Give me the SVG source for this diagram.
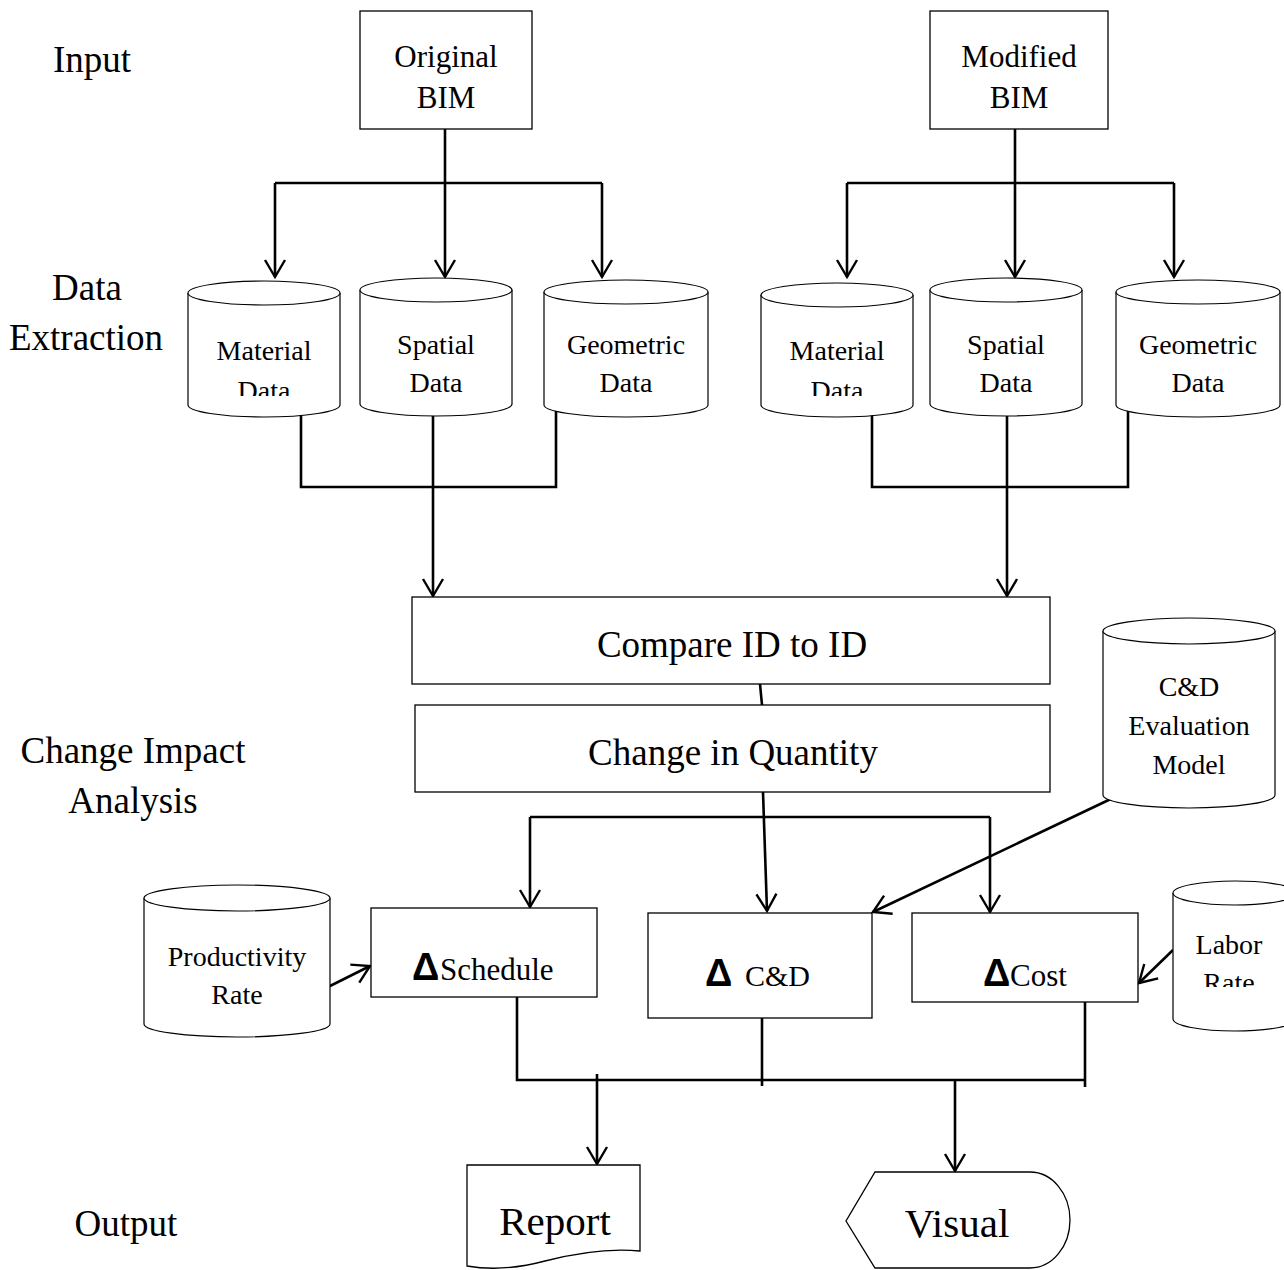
<svg xmlns="http://www.w3.org/2000/svg" width="1284" height="1270" viewBox="0 0 1284 1270">
  <style>
    .box { fill: #fff; stroke: #000; stroke-width: 1.3; }
    .cyl { fill: #fff; stroke: #000; stroke-width: 1.2; }
    .t { font-family: "Liberation Serif", "Times New Roman", serif; fill: #000; text-anchor: middle; }
    .lbl { font-size: 37px; }
    .d { font-size: 28px; }
    .delta { font-family: "Liberation Sans", Arial, sans-serif; font-weight: bold; }
    .wire { fill: none; stroke: #000; stroke-width: 2.6; }
    .arr { fill: none; stroke: #000; stroke-width: 2.6; marker-end: url(#vee); }
  </style>
  <defs>
    <marker id="vee" viewBox="-20 -12 24 24" refX="0" refY="0" markerWidth="24" markerHeight="24" markerUnits="userSpaceOnUse" orient="auto">
      <path d="M-17,-10 L0,0 L-17,10" fill="none" stroke="#000" stroke-width="2.4"/>
    </marker>
    <clipPath id="clipMatL"><rect x="180" y="250" width="170" height="146"/></clipPath>
    <clipPath id="clipMatR"><rect x="750" y="250" width="170" height="146"/></clipPath>
    <clipPath id="clipLabor"><rect x="1160" y="870" width="124" height="117"/></clipPath>
  </defs>

  <rect width="1284" height="1270" fill="#fff"/>

  <!-- stage labels -->
  <g id="stage-labels" class="t lbl">
    <text x="92" y="72">Input</text>
    <text x="87" y="300">Data</text>
    <text x="86" y="350">Extraction</text>
    <text x="133" y="763">Change Impact</text>
    <text x="133" y="813">Analysis</text>
    <text x="126" y="1236">Output</text>
  </g>

  <!-- connectors -->
  <g id="connectors">
    <!-- original BIM fan-out -->
    <path class="wire" d="M445,129 V183 M275,183 H602"/>
    <path class="arr" d="M275,183 V277"/>
    <path class="arr" d="M445,183 V277"/>
    <path class="arr" d="M602,183 V277"/>
    <!-- modified BIM fan-out -->
    <path class="wire" d="M1015,129 V183 M847,183 H1174"/>
    <path class="arr" d="M847,183 V277"/>
    <path class="arr" d="M1015,183 V277"/>
    <path class="arr" d="M1174,183 V277"/>
    <!-- extracted data merge -->
    <path class="wire" d="M301,404 V487 H556 V404"/>
    <path class="arr" d="M433,410 V596"/>
    <path class="wire" d="M872,404 V487 H1128 V404"/>
    <path class="arr" d="M1007,410 V596"/>
    <!-- compare to change -->
    <path class="wire" d="M760,684 L762,705"/>
    <path class="arr" d="M763,792 L767,911"/>
    <path class="wire" d="M530,817 H990"/>
    <path class="arr" d="M530,817 V907"/>
    <path class="arr" d="M990,817 V912"/>
    <!-- side inputs -->
    <path class="arr" d="M1115,797 L873,912"/>
    <path class="arr" d="M322,990 L370,966"/>
    <path class="arr" d="M1173,950 L1139,983"/>
    <!-- outputs -->
    <path class="wire" d="M517,997 V1080 H1085"/>
    <path class="wire" d="M762,1003 V1086"/>
    <path class="wire" d="M1085,1002 V1087"/>
    <path class="arr" d="M597,1074 V1164"/>
    <path class="arr" d="M955,1080 V1171"/>
  </g>

  <!-- input models -->
  <g id="original-bim">
    <rect class="box" x="360" y="11" width="172" height="118"/>
    <text class="t" font-size="31" x="446" y="67">Original</text>
    <text class="t" font-size="31" x="446" y="108">BIM</text>
  </g>
  <g id="modified-bim">
    <rect class="box" x="930" y="11" width="178" height="118"/>
    <text class="t" font-size="31" x="1019" y="67">Modified</text>
    <text class="t" font-size="31" x="1019" y="108">BIM</text>
  </g>

  <!-- data stores, original -->
  <g id="material-data-orig">
    <path class="cyl" d="M188,293 V405 A76,12 0 0 0 340,405 V293"/>
    <ellipse class="cyl" cx="264" cy="293" rx="76" ry="12"/>
    <g clip-path="url(#clipMatL)">
      <text class="t d" x="264" y="360">Material</text>
      <text class="t d" x="264" y="400">Data</text>
    </g>
  </g>
  <g id="spatial-data-orig">
    <path class="cyl" d="M360,290 V404 A76,12 0 0 0 512,404 V290"/>
    <ellipse class="cyl" cx="436" cy="290" rx="76" ry="12"/>
    <text class="t d" x="436" y="354">Spatial</text>
    <text class="t d" x="436" y="392">Data</text>
  </g>
  <g id="geometric-data-orig">
    <path class="cyl" d="M544,292 V405 A82,12 0 0 0 708,405 V292"/>
    <ellipse class="cyl" cx="626" cy="292" rx="82" ry="12"/>
    <text class="t d" x="626" y="354">Geometric</text>
    <text class="t d" x="626" y="392">Data</text>
  </g>

  <!-- data stores, modified -->
  <g id="material-data-mod">
    <path class="cyl" d="M761,295 V405 A76,12 0 0 0 913,405 V295"/>
    <ellipse class="cyl" cx="837" cy="295" rx="76" ry="12"/>
    <g clip-path="url(#clipMatR)">
      <text class="t d" x="837" y="360">Material</text>
      <text class="t d" x="837" y="400">Data</text>
    </g>
  </g>
  <g id="spatial-data-mod">
    <path class="cyl" d="M930,290 V404 A76,12 0 0 0 1082,404 V290"/>
    <ellipse class="cyl" cx="1006" cy="290" rx="76" ry="12"/>
    <text class="t d" x="1006" y="354">Spatial</text>
    <text class="t d" x="1006" y="392">Data</text>
  </g>
  <g id="geometric-data-mod">
    <path class="cyl" d="M1116,292 V405 A82,12 0 0 0 1280,405 V292"/>
    <ellipse class="cyl" cx="1198" cy="292" rx="82" ry="12"/>
    <text class="t d" x="1198" y="354">Geometric</text>
    <text class="t d" x="1198" y="392">Data</text>
  </g>

  <!-- processing -->
  <g id="compare">
    <rect class="box" x="412" y="597" width="638" height="87"/>
    <text class="t lbl" x="732" y="657">Compare ID to ID</text>
  </g>
  <g id="change-quantity">
    <rect class="box" x="415" y="705" width="635" height="87"/>
    <text class="t lbl" x="733" y="765">Change in Quantity</text>
  </g>
  <g id="cd-evaluation-model">
    <path class="cyl" d="M1103,631 V795 A86,13 0 0 0 1275,795 V631"/>
    <ellipse class="cyl" cx="1189" cy="631" rx="86" ry="13"/>
    <text class="t d" x="1189" y="696">C&amp;D</text>
    <text class="t d" x="1189" y="735">Evaluation</text>
    <text class="t d" x="1189" y="774">Model</text>
  </g>

  <!-- impacts -->
  <g id="productivity-rate">
    <path class="cyl" d="M144,898 V1024 A93,13 0 0 0 330,1024 V898"/>
    <ellipse class="cyl" cx="237" cy="898" rx="93" ry="13"/>
    <text class="t d" x="237" y="966">Productivity</text>
    <text class="t d" x="237" y="1004">Rate</text>
  </g>
  <g id="delta-schedule">
    <rect class="box" x="371" y="908" width="226" height="89"/>
    <text class="t" font-size="31" x="412" y="980" style="text-anchor:start"><tspan class="delta" font-size="38">Δ</tspan><tspan x="440">Schedule</tspan></text>
  </g>
  <g id="delta-cd">
    <rect class="box" x="648" y="913" width="224" height="105"/>
    <text class="t" font-size="30" x="705" y="986" style="text-anchor:start"><tspan class="delta" font-size="38">Δ</tspan><tspan x="745">C&amp;D</tspan></text>
  </g>
  <g id="delta-cost">
    <rect class="box" x="912" y="913" width="226" height="89"/>
    <text class="t" font-size="31" x="983" y="986" style="text-anchor:start"><tspan class="delta" font-size="38">Δ</tspan><tspan x="1010">Cost</tspan></text>
  </g>
  <g id="labor-rate">
    <path class="cyl" d="M1173,893 V1019 A62,12 0 0 0 1297,1019 V893"/>
    <ellipse class="cyl" cx="1235" cy="893" rx="62" ry="12"/>
    <g clip-path="url(#clipLabor)">
      <text class="t d" x="1229" y="954">Labor</text>
      <text class="t d" x="1229" y="992">Rate</text>
    </g>
  </g>

  <!-- outputs -->
  <g id="report">
    <path class="box" d="M467,1165 H640 V1251 C610,1248 580,1252 545,1261 C515,1269 490,1270 467,1266 Z"/>
    <text class="t" font-size="41" x="555" y="1235">Report</text>
  </g>
  <g id="visual">
    <path class="box" d="M875,1172 H1030 A40,48 0 0 1 1030,1268 H875 L846,1221 Z"/>
    <text class="t" font-size="41" x="957" y="1237">Visual</text>
  </g>
</svg>
